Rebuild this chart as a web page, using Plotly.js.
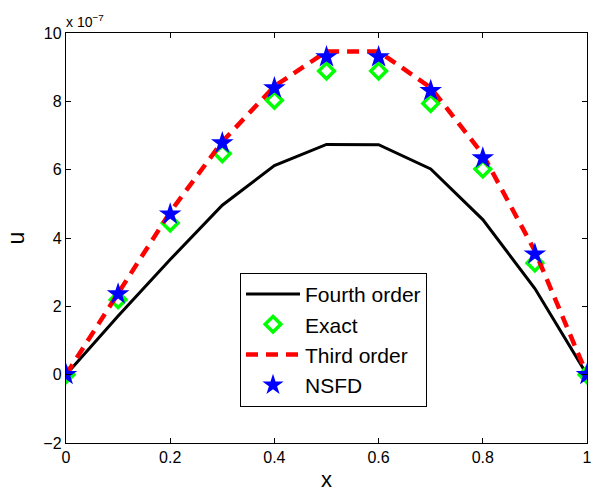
<!DOCTYPE html>
<html>
<head>
<meta charset="utf-8">
<script src="https://cdn.plot.ly/plotly-3.0.1.min.js"></script>
<style>html,body{margin:0;padding:0;background:#fff;}#chart{width:604px;height:495px;}</style>
</head>
<body>
<div id="chart"></div>
<script>
// values of u are in units of 1e-7
var xs = [0, 0.1, 0.2, 0.3, 0.4, 0.5, 0.6, 0.7, 0.8, 0.9, 1.0];
var fourthOrder = [0, 1.72, 3.37, 4.96, 6.12, 6.74, 6.73, 6.02, 4.54, 2.52, 0];
var exact       = [0, 2.19, 4.44, 6.47, 8.03, 8.89, 8.89, 7.94, 6.02, 3.27, 0];
var thirdOrder  = [0, 2.40, 4.76, 6.82, 8.44, 9.46, 9.46, 8.40, 6.45, 3.62, 0];
var nsfd        = [0, 2.36, 4.70, 6.78, 8.39, 9.30, 9.30, 8.31, 6.34, 3.53, 0];
var xTicks = [0, 0.2, 0.4, 0.6, 0.8, 1];
var yTicks = [-2, 0, 2, 4, 6, 8, 10];
var seriesNames = ["Fourth order", "Exact", "Third order", "NSFD"];

var FONT = "Liberation Sans, Arial, Helvetica, sans-serif";

var traces = [
  {x: xs, y: fourthOrder, name: seriesNames[0], mode: "lines",
   line: {color: "#000000", width: 3}},
  {x: xs, y: exact, name: seriesNames[1], mode: "markers",
   marker: {symbol: "diamond-open", color: "#00ff00", size: 12, line: {color: "#00ff00", width: 3.5}}},
  {x: xs, y: thirdOrder, name: seriesNames[2], mode: "lines",
   line: {color: "#ff0000", width: 4.5, dash: "12px,8px"}},
  {x: xs, y: nsfd, name: seriesNames[3], mode: "markers",
   marker: {symbol: "star", color: "#0000ff", size: 17, line: {color: "#0000ff", width: 0}}}
];

var axisCommon = {
  showline: true, linecolor: "#000", linewidth: 1.2, mirror: "ticks",
  ticks: "inside", ticklen: 5, tickwidth: 1, tickcolor: "#000",
  showgrid: false, zeroline: false,
  tickfont: {family: FONT, size: 16, color: "#000"}
};

var layout = {
  width: 604, height: 495,
  margin: {l: 66, r: 17, t: 33, b: 52},
  paper_bgcolor: "#fff", plot_bgcolor: "#fff",
  font: {family: FONT, color: "#000"},
  showlegend: true,
  xaxis: Object.assign({}, axisCommon, {
    range: [0, 1], tickmode: "array", tickvals: xTicks, ticktext: xTicks.map(String),
    title: {text: "x", font: {family: FONT, size: 22, color: "#000"}, standoff: 6}
  }),
  yaxis: Object.assign({}, axisCommon, {
    range: [-2, 10], tickmode: "array", tickvals: yTicks,
    ticktext: yTicks.map(function(v){ return v < 0 ? "\u2212" + (-v) : String(v); }),
    title: {text: "u", font: {family: FONT, size: 23, color: "#000"}, standoff: 12}
  }),
  legend: {
    x: 0.334, y: 0.415, xanchor: "left", yanchor: "top",
    bgcolor: "#fff", bordercolor: "#000", borderwidth: 1,
    font: {family: FONT, size: 21, color: "#000"},
    tracegroupgap: 0, itemwidth: 54
  },
  annotations: [{
    xref: "paper", yref: "paper", x: 0, y: 1, xanchor: "left", yanchor: "bottom",
    xshift: -2, yshift: 1, showarrow: false,
    text: "x 10<sup>\u22127</sup>", font: {family: FONT, size: 14, color: "#000"}
  }]
};

Plotly.newPlot("chart", traces, layout, {displayModeBar: false, staticPlot: true});
</script>
</body>
</html>
